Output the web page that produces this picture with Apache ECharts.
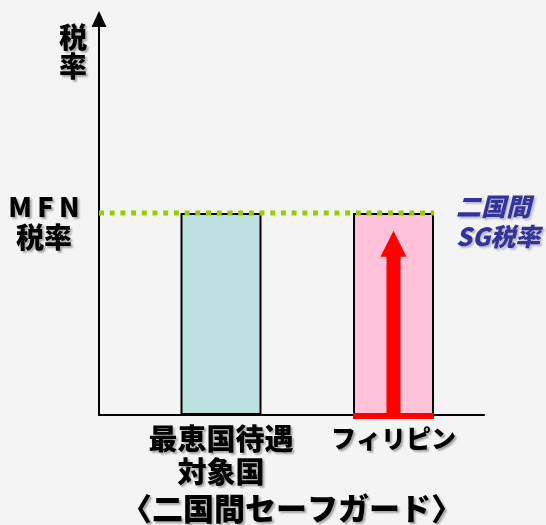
<!DOCTYPE html>
<html>
<head>
<meta charset="utf-8">
<script src="https://cdn.jsdelivr.net/npm/echarts@6/dist/echarts.min.js"></script>
<style>
  html, body { margin: 0; padding: 0; background: #f4f4f4; }
  #chart { width: 546px; height: 525px; }
</style>
</head>
<body>
<div id="chart"></div>
<script>
// Tariff comparison under the bilateral safeguard
const categories = ['最恵国待遇\n対象国', 'フィリピン'];
const tariffRate = [51, 51];          // applied rate per country group
const barColors = ['#bde0e1', '#ffc2d9'];
const mfnRate = 51;                   // MFN tariff level
const sgRange = [0, 46.5];            // Philippines: SG rate starts at 0 and rises toward MFN
const yAxisMax = 100;

const FONT = '"Noto Sans CJK JP", "Noto Sans", sans-serif';
const BAR_W = 81;
const shadow = {
  textShadowColor: 'rgba(0,0,0,0.32)',
  textShadowOffsetX: 2,
  textShadowOffsetY: 2,
  textShadowBlur: 2
};

// plot frame (pixels)
const GRID = { left: 99, right: 62, top: 19, bottom: 110, containLabel: false, outerBoundsMode: 'none' };
const PX_PER_CAT = 172.5;
const FIRST_CAT_PX = 122;             // distance from y axis to first bar centre
const plotW = 546 - GRID.left - GRID.right;
const xMin = -FIRST_CAT_PX / PX_PER_CAT;
const xMax = xMin + plotW / PX_PER_CAT;

const chart = echarts.init(document.getElementById('chart'), null, { renderer: 'canvas' });

chart.setOption({
  backgroundColor: '#f4f4f4',
  animation: false,
  grid: GRID,
  xAxis: {
    type: 'value',
    min: xMin,
    max: xMax,
    splitLine: { show: false },
    axisTick: { show: false },
    axisLine: { show: true, onZero: false, lineStyle: { color: '#000', width: 2 } },
    axisLabel: {
      customValues: categories.map((_, i) => i),
      formatter: v => {
        const name = categories[Math.round(v)] || '';
        return name.indexOf('\n') < 0 ? '{k|' + name + '}' : name;
      },
      color: '#000',
      fontFamily: FONT,
      fontWeight: 900,
      fontSize: 29,
      lineHeight: 33,
      margin: 7,
      rich: {
        k: {
          color: '#000',
          fontFamily: FONT,
          fontWeight: 900,
          fontSize: 25,
          lineHeight: 33,
          ...shadow
        }
      },
      ...shadow
    },
    name: '〈二国間セーフガード〉',
    nameLocation: 'middle',
    nameGap: 75,
    nameTextStyle: {
      color: '#000',
      fontFamily: FONT,
      fontWeight: 900,
      fontSize: 31,
      verticalAlign: 'top',
      ...shadow
    }
  },
  yAxis: {
    type: 'value',
    min: 0,
    max: yAxisMax,
    splitLine: { show: false },
    axisTick: { show: false },
    axisLine: {
      show: true,
      onZero: false,
      symbol: ['none', 'triangle'],
      symbolSize: [15, 16],
      lineStyle: { color: '#000', width: 2 }
    },
    axisLabel: {
      customValues: [mfnRate],
      formatter: () => '{m|M\u2009F\u2009N}\n税率',
      align: 'center',
      verticalAlign: 'middle',
      margin: 55,
      padding: [18, 0, 0, 0],
      color: '#000',
      fontFamily: FONT,
      fontWeight: 900,
      fontSize: 28,
      lineHeight: 31,
      rich: {
        m: {
          color: '#000',
          fontFamily: FONT,
          fontWeight: 900,
          fontSize: 27,
          lineHeight: 31,
          ...shadow
        }
      },
      ...shadow
    },
    name: '税\n率',
    nameLocation: 'end',
    nameGap: 0,
    nameTextStyle: {
      align: 'right',
      verticalAlign: 'top',
      padding: [4, 12, 0, 0],
      color: '#000',
      fontFamily: FONT,
      fontWeight: 900,
      fontSize: 28,
      lineHeight: 29,
      ...shadow
    }
  },
  series: [
    {
      name: '税率',
      type: 'bar',
      barWidth: BAR_W,
      z: 2,
      data: tariffRate.map((v, i) => ({
        value: [i, v],
        itemStyle: { color: barColors[i], borderColor: '#000', borderWidth: 2 }
      }))
    },
    {
      // Philippines SG rate: red base at the starting rate and an arrow rising toward MFN
      name: 'SG税率',
      type: 'custom',
      z: 4,
      data: [[1, sgRange[0], sgRange[1]]],
      encode: { x: 0, y: [1, 2] },
      renderItem: (params, api) => {
        const base = api.coord([api.value(0), api.value(1)]);
        const tip = api.coord([api.value(0), api.value(2)]);
        const cx = base[0];
        const headH = 26, headHalf = 13, shaftHalf = 7;
        return {
          type: 'group',
          children: [
            {
              type: 'polygon',
              shape: {
                points: [
                  [cx - shaftHalf, base[1]],
                  [cx - shaftHalf, tip[1] + headH],
                  [cx - headHalf, tip[1] + headH],
                  [cx, tip[1]],
                  [cx + headHalf, tip[1] + headH],
                  [cx + shaftHalf, tip[1] + headH],
                  [cx + shaftHalf, base[1]]
                ]
              },
              style: { fill: '#ff0000' }
            },
            {
              type: 'rect',
              shape: { x: cx - BAR_W / 2, y: base[1] - 2, width: BAR_W, height: 6 },
              style: { fill: '#ff0000' }
            }
          ]
        };
      }
    },
    {
      // MFN level: dotted line from the y axis to the Philippines bar
      name: 'MFN税率',
      type: 'custom',
      z: 5,
      data: [[categories.length - 1, mfnRate]],
      encode: { x: 0, y: 1 },
      renderItem: (params, api) => {
        const p = api.coord([api.value(0), api.value(1)]);
        const x0 = params.coordSys.x;
        const x1 = p[0] + BAR_W / 2;
        return {
          type: 'group',
          children: [
            {
              type: 'line',
              shape: { x1: x0, y1: p[1], x2: x1, y2: p[1] },
              style: { stroke: '#99cc00', lineWidth: 5, lineDash: [5, 5.7] }
            },
            {
              type: 'text',
              x: x1 + 22,
              y: p[1] + 8,
              style: {
                text: '二国間\nSG税率',
                fill: '#333399',
                font: 'italic 900 25px ' + FONT,
                lineHeight: 30,
                align: 'left',
                verticalAlign: 'middle',
                textShadowColor: 'rgba(80,80,140,0.35)',
                textShadowOffsetX: 2,
                textShadowOffsetY: 2,
                textShadowBlur: 2
              }
            }
          ]
        };
      }
    }
  ]
});
</script>
</body>
</html>
